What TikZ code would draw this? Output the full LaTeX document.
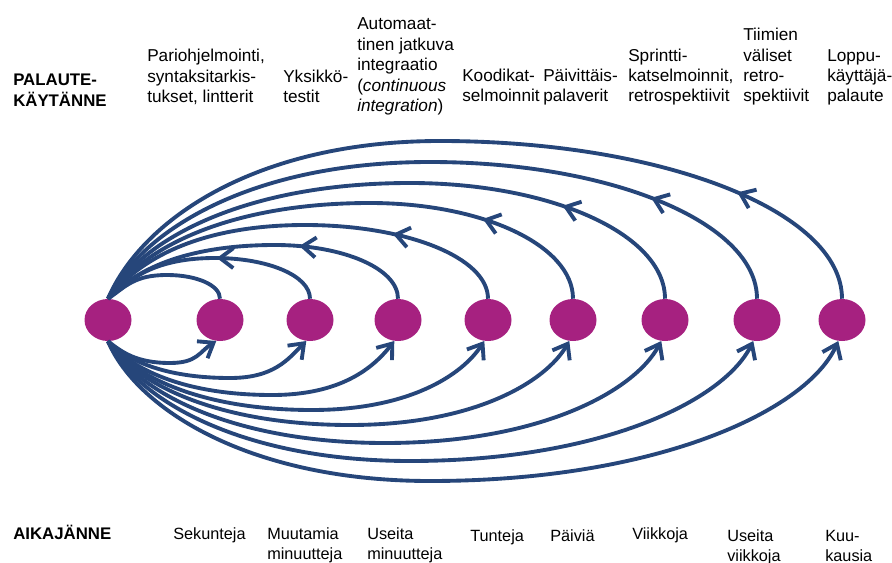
\documentclass[tikz,border=0pt]{standalone}
\usepackage{fontspec}
\setmainfont{Liberation Sans}
\usetikzlibrary{arrows.meta,decorations.markings,shapes.geometric}
\definecolor{arcblue}{RGB}{38,70,122}
\definecolor{dotpurple}{RGB}{166,33,128}
\newcommand{\lbl}[1]{\begin{tabular}[b]{@{}l@{}}#1\end{tabular}}
\newcommand{\lblt}[1]{\begin{tabular}[t]{@{}l@{}}#1\end{tabular}}
\begin{document}
\begin{tikzpicture}[x=0.75pt,y=-0.75pt,
  dot/.style={ellipse, fill=dotpurple, draw=none, minimum width=35.25pt, minimum height=31.5pt, inner sep=0pt},
  arc/.style={draw=arcblue, line width=2.9pt},
  barbtip/.style={-{Straight Barb[length=10pt,width=15pt]}},
  midarrow/.style={postaction={decorate}, decoration={markings, mark=at position #1 with {\arrow{Straight Barb[length=10pt,width=15pt]}}}},
  toplabel/.style={anchor=base west, inner sep=0pt, font=\fontsize{12.9}{15.3}\selectfont},
  botlabel/.style={anchor=base west, inner sep=0pt, font=\fontsize{12.2}{15.4}\selectfont},
  headlabel/.style={anchor=base west, inner sep=0pt, font=\bfseries\fontsize{12.6}{15.5}\selectfont}
]
\useasboundingbox (0,0) rectangle (892,563);

% dots
\foreach \i/\x in {1/108,2/220,3/310,4/398,5/488,6/573,7/665,8/757,9/842}
  \node[dot] (n\i) at (\x,320) {};

% top arcs (feedback back to the first dot)
\draw[arc] (n2.north) .. controls +(0,{-0.552*(300-275)}) and +({0.552*(220-167)},0) .. (167,275)
  .. controls +({-0.552*(167-108)},0) and +(18,{-0.5*(300-275)}) .. (n1.north);
\foreach \i/\x/\ax/\ay/\m/\ap in {3/310/215/258/23/82pt, 4/398/275/245/26/90pt, 5/488/305/225/29/92pt,
    6/573/370/203/31/96pt, 7/665/410/183/32/110pt, 8/757/430/162/34/116pt, 9/842/440/141/34/118pt}
  \draw[arc, midarrow=\ap] (n\i.north) .. controls +(0,{-0.552*(300-\ay)}) and +({0.552*(\x-\ax)},0) .. (\ax,\ay)
    .. controls +({-0.552*(\ax-108)},0) and +(\m,{-0.5*(300-\ay)}) .. (n1.north);

% bottom arcs (from the first dot to each dot)
\foreach \i/\x/\bx/\by/\a/\e in {2/220/170/363/38/32, 3/310/230/378/45/45, 4/398/272/395/50/52,
    5/488/312/410/55/57, 6/573/350/425/58/60, 7/665/385/443/61/62, 8/757/410/461/64/64, 9/842/430/481/67/66}
  \draw[arc, barbtip] (n1.south) .. controls +({0.5*(\by-342)/tan(\a)},{0.5*(\by-342)}) and +({-0.552*(\bx-108)},0) .. (\bx,\by)
    .. controls +({0.552*(\x-\bx)},0) and +({-0.5*(\by-342)/tan(\e)},{0.5*(\by-342)}) .. (n\i.-100);

% top labels
\node[headlabel] (hp) at (13,106.5) {\lbl{PALAUTE-\\KÄYTÄNNE}};
\node[toplabel] (t2) at (147,102.5) {\lbl{Pariohjelmointi,\\syntaksitarkis-\\tukset, lintterit}};
\node[toplabel] (t3) at (283,102.5) {\lbl{Yksikkö-\\testit}};
\node[toplabel] (t4) at (357,111.5) {\lbl{Automaat-\\tinen jatkuva\\integraatio\\(\textit{continuous}\\\textit{integration})}};
\node[toplabel] (t5) at (462,102) {\lbl{Koodikat-\\selmoinnit}};
\node[toplabel] (t6) at (543,102) {\lbl{Päivittäis-\\palaverit}};
\node[toplabel] (t7) at (628,102) {\lbl{Sprintti-\\katselmoinnit,\\retrospektiivit}};
\node[toplabel] (t8) at (743,102) {\lbl{Tiimien\\väliset\\retro-\\spektiivit}};
\node[toplabel] (t9) at (827,102) {\lbl{Loppu-\\käyttäjä-\\palaute}};

% bottom labels
\node[headlabel] (ha) at (13,539) {AIKAJÄNNE};
\node[botlabel] (b2) at (173,539) {\lblt{Sekunteja}};
\node[botlabel] (b3) at (267,539) {\lblt{Muutamia\\minuutteja}};
\node[botlabel] (b4) at (367,539) {\lblt{Useita\\minuutteja}};
\node[botlabel] (b5) at (470,541) {\lblt{Tunteja}};
\node[botlabel] (b6) at (550,541) {\lblt{Päiviä}};
\node[botlabel] (b7) at (632,539) {\lblt{Viikkoja}};
\node[botlabel] (b8) at (727,541) {\lblt{Useita\\viikkoja}};
\node[botlabel] (b9) at (825,541) {\lblt{Kuu-\\kausia}};
\end{tikzpicture}
\end{document}
